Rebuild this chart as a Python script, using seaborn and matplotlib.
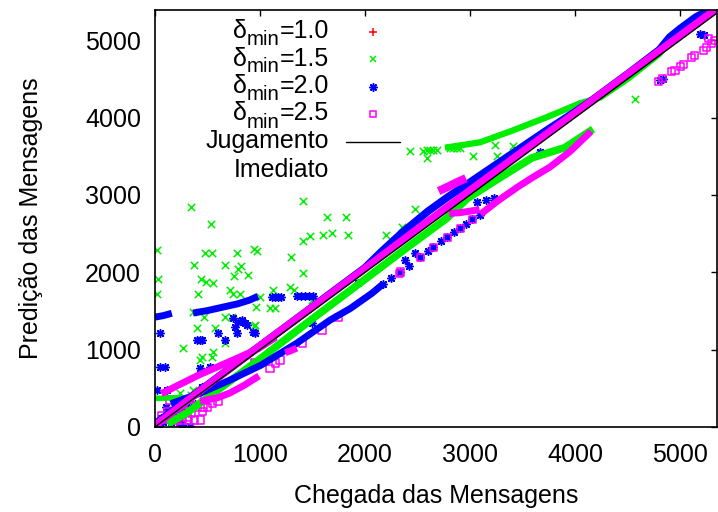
import matplotlib
matplotlib.use("Agg")
import matplotlib.pyplot as plt
import seaborn as sns
from matplotlib.transforms import IdentityTransform

# ---------------- data ----------------
red_band_x = [0, 1000, 2000, 3000, 4000, 5000, 5350]
red_band_y = [20, 1030, 2040, 3060, 4040, 5040, 5390]

green_main_x = [120, 300, 600, 1000, 1500, 2000, 2400, 2780, 2970, 3270, 3590, 3900, 4170]
green_main_y = [40, 180, 480, 880, 1400, 1910, 2320, 2700, 2950, 3210, 3480, 3610, 3850]
green_upper_x = [2760, 3095, 3410, 3730, 4050, 4240, 4500, 4800, 4900, 5000, 5200, 5350]
green_upper_y = [3610, 3680, 3835, 4005, 4186, 4260, 4500, 4820, 5000, 5120, 5320, 5420]
green_low_x = [0, 130, 270]
green_low_y = [370, 375, 380]
green_pts_x = [343, 533, 19, 476, 543, 781, 943, 971, 371, 667, 790, 819, 752, 886, 1409, 1409,
               1476, 1295, 1409, 29, 438, 486, 552, 19, 409, 714, 743, 809, 1000, 1124, 1286, 1324,
               962, 362, 467, 667, 733, 1095, 1143, 943, 400, 571, 1638, 1819, 1600, 1686, 1838,
               2200, 2352, 2476, 1495, 267, 448, 543, 429, 667, 952, 362, 238, 552,
               2429, 2552, 2590, 2619, 2648, 2686, 2810, 2838, 2876, 2905, 2590, 3029, 3257,
               3410, 3238, 4571, 60, 110, 190, 260, 340]
green_pts_y = [2842, 2623, 2287, 2248, 2248, 2248, 2300, 2274, 2093, 2093, 2041, 2080, 1951, 1964, 2920, 2403,
               2468, 2196, 1990, 1912, 1912, 1873, 1860, 1718, 1718, 1770, 1718, 1718, 1680, 1770, 1809, 1770,
               1550, 1486, 1421, 1421, 1421, 1537, 1537, 1305, 1279, 1279, 2713, 2713, 2481, 2506, 2481,
               2481, 2584, 2817, 1641, 1021, 904, 904, 866, 1085, 1318, 478, 439, 969,
               3562, 3570, 3575, 3575, 3580, 3585, 3600, 3600, 3605, 3610, 3475, 3501, 3501,
               3630, 3643, 4238, 110, 190, 270, 330, 420]

blue_main_x = [0, 500, 1000, 1500, 2000, 2150, 2350, 2600, 2800, 3000, 3250, 3500, 3750, 4000,
               4150, 4500, 4800, 4900, 5000, 5150, 5350]
blue_main_y = [40, 545, 1050, 1555, 2060, 2260, 2510, 2790, 2985, 3165, 3395, 3625, 3855, 4075,
               4215, 4565, 4875, 5040, 5150, 5300, 5440]
blue_low_x = [150, 430, 714, 1010, 1352, 1667, 1857, 2064, 2171]
blue_low_y = [300, 437, 607, 800, 1085, 1382, 1530, 1727, 1848]
blue_1400_x = [0, 80, 160]
blue_1400_y = [1420, 1440, 1470]
blue_1500_x = [362, 500, 648, 781, 900, 981]
blue_1500_y = [1473, 1505, 1550, 1590, 1640, 1690]
blue_pts_x = [1114, 1143, 1171, 1200, 1352, 1390, 1430, 1470, 1505,
              48, 400, 429, 448, 600, 667, 781, 829, 876, 952, 48, 95, 429, 524, 19, 114, 448,
              743, 790, 857, 762, 933, 1495, 1933, 2381, 2476, 3067, 3150, 3230, 3667, 3952,
              76, 150, 230, 333, 100, 200, 300, 60, 120, 180, 250, 320, 380, 40, 260,
              2171, 2250, 2333, 2420, 2524, 2600, 2648, 2720, 2781, 2850, 2905, 2960, 3019, 3095,
              4810, 4840, 5222, 5190]
blue_pts_y = [1680, 1680, 1680, 1680, 1690, 1690, 1690, 1690, 1690,
              1214, 1124, 1124, 1124, 1214, 1124, 1214, 1382, 1318, 1214, 775, 775, 762, 775, 478, 478, 517,
              1408, 1357, 1344, 1292, 1227, 1344, 1860, 2158, 2248, 2907, 2930, 2960, 3553, 3618,
              65, 65, 65, 13, 260, 300, 350, 120, 150, 200, 230, 260, 300, 30, 30,
              1848, 1930, 2003, 2080, 2196, 2270, 2326, 2400, 2455, 2520, 2571, 2630, 2687, 2740,
              4483, 4500, 5065, 5080]

mag_main_x = [0, 500, 1000, 1500, 2000, 2500, 3000, 3500, 4000, 4500, 5000, 5350]
mag_main_y = [20, 540, 1050, 1550, 2050, 2560, 3060, 3560, 4060, 4560, 5060, 5410]
mag_upper_left_x = [60, 250, 430, 600, 800, 980, 1150]
mag_upper_left_y = [430, 560, 680, 780, 900, 1010, 1160]
mag_lower_left_x = [430, 600, 714, 850, 990]
mag_lower_left_y = [330, 380, 440, 540, 660]
mag_blob_x = [1240, 1300, 1350]
mag_blob_y = [960, 990, 1020]
mag_hook_x = [2700, 2780, 2870, 2960]
mag_hook_y = [3050, 3100, 3160, 3215]
mag_short_x = [2800, 2900, 3000, 3090]
mag_short_y = [2760, 2770, 2790, 2810]
mag_lower_right_x = [3100, 3260, 3450, 3600, 3760, 3950, 4150]
mag_lower_right_y = [2750, 2920, 3100, 3230, 3360, 3560, 3820]
mag_pts_x = [952, 1095, 1143, 1190, 1400, 1590, 1743, 2324, 2333, 2524, 2648, 2781, 2905, 3019,
             19, 210, 260, 320, 380, 429, 267, 330, 400, 457, 143, 238, 400, 305, 60, 120, 180, 350,
             100, 150, 200, 300, 450, 500, 550, 600,
             4790, 4830, 4920, 4950, 5000, 5030, 5111, 5140, 5222, 5250, 5270, 5300, 5330]
mag_pts_y = [827, 762, 827, 866, 1085, 1253, 1421, 1990, 2003, 2196, 2326, 2455, 2571, 2687,
             26, 90, 90, 90, 90, 90, 258, 258, 258, 258, 349, 349, 375, 129, 150, 200, 30, 180,
             100, 140, 170, 200, 200, 250, 300, 330,
             4460, 4500, 4590, 4610, 4664, 4690, 4776, 4800, 4871, 4900, 5026, 4960, 4990]

ideal_x = [0, 5350]
ideal_y = [0, 5350]

delta_symbol = 'δ'
delta_sub = 'min'
delta_values = ['=1.0', '=1.5', '=2.0', '=2.5']
ideal_label = 'Jugamento\nImediato'
x_label = 'Chegada das Mensagens'
y_label = 'Predição das Mensagens'
x_ticks = [0, 1000, 2000, 3000, 4000, 5000]
y_ticks = [0, 1000, 2000, 3000, 4000, 5000]

# ---------------- style ----------------
sns.set_theme(style="white")
plt.rcParams['font.family'] = ['Liberation Sans', 'DejaVu Sans']

RED = '#ff0000'
GREEN = '#00ee00'
BLUE = '#0000ff'
MAG = '#ff00ff'
FS = 18

W, H = 718, 512
L, R, T, B = 155, 717, 10, 427
fig = plt.figure(figsize=(W / 100, H / 100), dpi=100)
ax = fig.add_axes([L / W, (H - B) / H, (R - L) / W, (B - T) / H])

BAND_LW = 5.5


def band(xs, ys, color, lw=BAND_LW):
    sns.lineplot(x=xs, y=ys, sort=False, estimator=None, color=color, lw=lw,
                 ax=ax, legend=False, solid_capstyle='butt')


# red series
band(red_band_x, red_band_y, RED, 4)

# green series
band(green_main_x, green_main_y, GREEN)
band(green_upper_x, green_upper_y, GREEN, 4.5)
band(green_low_x, green_low_y, GREEN, 4)
sns.scatterplot(x=green_pts_x, y=green_pts_y, marker='x', color=GREEN, s=28,
                linewidth=1.1, ax=ax, legend=False)

# blue series
band(blue_main_x, blue_main_y, BLUE)
band(blue_low_x, blue_low_y, BLUE, 5)
band(blue_1400_x, blue_1400_y, BLUE, 5)
band(blue_1500_x, blue_1500_y, BLUE, 5)
sns.scatterplot(x=blue_pts_x, y=blue_pts_y, marker=(8, 2, 0), color=BLUE, s=30,
                linewidth=1.1, ax=ax, legend=False)

# magenta series
band(mag_main_x, mag_main_y, MAG)
band(mag_upper_left_x, mag_upper_left_y, MAG, 5)
band(mag_lower_left_x, mag_lower_left_y, MAG, 5)
band(mag_blob_x, mag_blob_y, MAG, 5)
band(mag_hook_x, mag_hook_y, MAG, 6)
band(mag_short_x, mag_short_y, MAG, 5)
band(mag_lower_right_x, mag_lower_right_y, MAG, 5)
sns.scatterplot(x=mag_pts_x, y=mag_pts_y, marker='s', facecolor='none', edgecolor=MAG, s=26,
                linewidth=1.1, ax=ax, legend=False)

# ideal line
sns.lineplot(x=ideal_x, y=ideal_y, color='black', lw=1.0, ax=ax, legend=False)

# axes
ax.set_xlim(0, 5350)
ax.set_ylim(0, 5390)
ax.set_xticks(x_ticks)
ax.set_yticks(y_ticks)
ax.tick_params(direction='in', length=4.5, width=1, top=True, right=True,
               labelsize=FS, colors='black')
ax.tick_params(axis='x', pad=11.5)
ax.tick_params(axis='y', pad=10)
for sp in ax.spines.values():
    sp.set_color('black')
    sp.set_linewidth(1.2)
ax.set_xlabel(x_label, fontsize=FS, color='black', labelpad=12)
ax.set_ylabel(y_label, fontsize=FS, color='black', labelpad=30)
ax.grid(False)

# ---------------- legend (gnuplot style: right-aligned text, key to the right) ----------------
renderer = fig.canvas.get_renderer()
ident = IdentityTransform()


def put_text(px_right, py_base, s, size):
    """Right-aligned text at figure pixel coords (y from top); returns its width in px."""
    t = fig.text(px_right, H - py_base, s, transform=ident, ha='right', va='baseline',
                 fontsize=size, color='black')
    return t.get_window_extent(renderer).width


def ax_x(px):
    return (px - L) / (R - L)


def ax_y(py):
    return (B - py) / (B - T)


key_styles = [
    dict(color=RED, marker='+', markersize=6, markeredgewidth=1.1),
    dict(color=GREEN, marker='x', markersize=5, markeredgewidth=1.1),
    dict(color=BLUE, marker=(8, 2, 0), markersize=6, markeredgewidth=1.1),
    dict(color=MAG, marker='s', markerfacecolor='none', markersize=5, markeredgewidth=1.1),
]
row_baselines = [38, 65.5, 93, 120.5]
row_centers = [32, 59, 87, 114]
TEXT_RIGHT = 329
for val, st, bl, cy in zip(delta_values, key_styles, row_baselines, row_centers):
    w3 = put_text(TEXT_RIGHT, bl, val, FS)
    w2 = put_text(TEXT_RIGHT - w3, bl + 7, delta_sub, FS * 0.82)
    put_text(TEXT_RIGHT - w3 - w2, bl, delta_symbol, FS)
    ax.plot([ax_x(373)], [ax_y(cy)], transform=ax.transAxes, linestyle='none',
            clip_on=False, **st)
jl1, jl2 = ideal_label.split('\n')
put_text(TEXT_RIGHT, 148, jl1, FS)
put_text(TEXT_RIGHT, 177, jl2, FS)
ax.plot([ax_x(346), ax_x(400)], [ax_y(142), ax_y(142)], transform=ax.transAxes,
        color='black', lw=1.0, clip_on=False)

fig.savefig('out.png', dpi=100)
